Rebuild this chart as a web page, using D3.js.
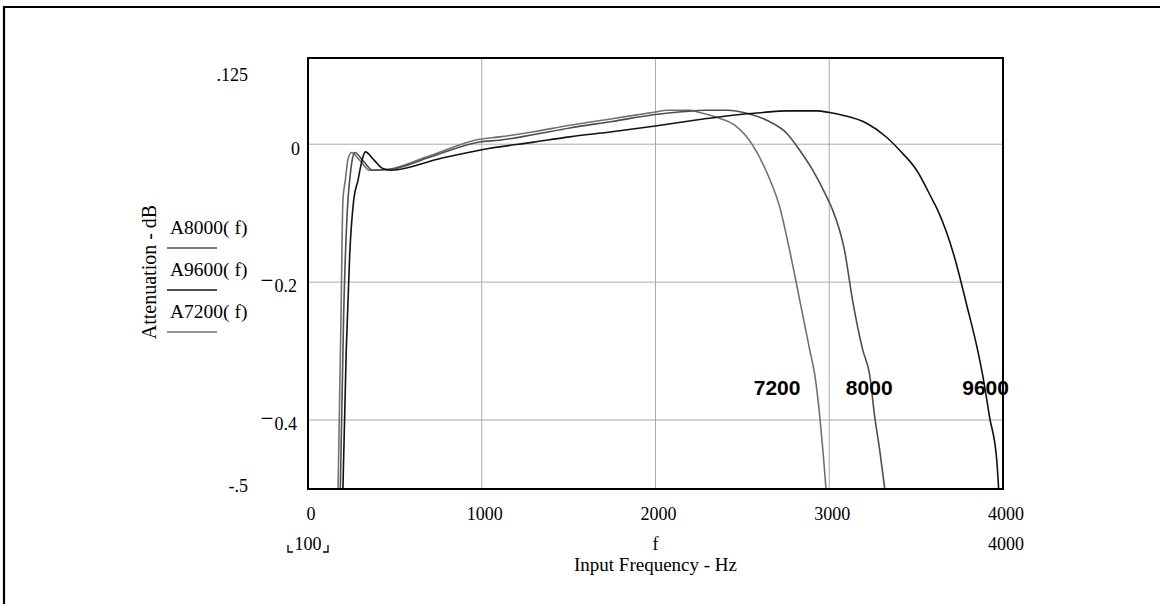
<!DOCTYPE html>
<html><head><meta charset="utf-8">
<script src="https://cdn.jsdelivr.net/npm/d3@7"></script>
<style>body{margin:0;background:#fff}</style>
</head><body>
<svg id="c" width="1160" height="604"></svg>
<script>
// ---- data (frequency in Hz, attenuation in dB) ----
const freq7200 = [173,190,201,215,230,250,300,355,451,700,988,1103,1300,1506,1750,1999,2065,2197,2254,2352,2456,2559,2640,2715,2772,2830,2888,2917,2946,2963,2981];
const att7200  = [-0.5,-0.25,-0.081,-0.052,-0.022,-0.012,-0.024,-0.0377,-0.0367,-0.0167,0.0072,0.0106,0.018,0.0275,0.037,0.0468,0.0493,0.0493,0.046,0.039,0.0275,-0.0014,-0.0406,-0.0913,-0.154,-0.226,-0.2986,-0.335,-0.396,-0.443,-0.4986];
const freq8000 = [186,205,230,240,255,269,320,372,470,700,988,1103,1300,1506,1750,1999,2150,2294,2415,2525,2640,2755,2830,2905,2986,3020,3088,3134,3193,3233,3262,3290,3319];
const att8000  = [-0.5,-0.25,-0.081,-0.052,-0.022,-0.012,-0.025,-0.0377,-0.0367,-0.019,0.0033,0.0058,0.014,0.0236,0.033,0.043,0.047,0.0493,0.0493,0.045,0.0348,0.0159,-0.0087,-0.0377,-0.0768,-0.0957,-0.154,-0.226,-0.2986,-0.335,-0.396,-0.443,-0.4986];
const freq9600 = [201,220,240,263,288,305,318,330,380,430,480,757,1000,1300,1506,1750,1999,2254,2410,2502,2620,2755,2928,3002,3077,3215,3330,3405,3503,3595,3624,3722,3790,3854,3883,3923,3964,3975];
const att9600  = [-0.5,-0.3,-0.16,-0.081,-0.052,-0.03,-0.017,-0.0112,-0.023,-0.0352,-0.0377,-0.021,-0.008,0.003,0.0106,0.018,0.0265,0.0358,0.041,0.0435,0.046,0.0483,0.0483,0.0459,0.042,0.0304,0.0101,-0.0087,-0.0377,-0.0812,-0.0957,-0.165,-0.232,-0.2986,-0.335,-0.396,-0.458,-0.5];

const seriesNames  = ["A8000( f)","A9600( f)","A7200( f)"];
const curveLabels  = ["7200","8000","9600"];
const curveLabelAt = [2700,3230,3900];      // frequency where each label is centred
const curveLabelDb = [-0.364,-0.364,-0.364];
const xTicks = [0,1000,2000,3000,4000];
const xTickText = ["0","1000","2000","3000","4000"];
const yGrid = [0,-0.2,-0.4];
const yTickValues = [0.125,0,-0.2,-0.4,-0.5];
const yTickText = [".125","0","−0.2","−0.4","-.5"];
const xLimitText = ["100","f","4000"];
const xTitle = "Input Frequency - Hz";
const yTitle = "Attenuation - dB";

const colors = {"7200":"#717171","8000":"#4e4e4e","9600":"#111111"};

const svg = d3.select("#c");
const serif = "'Liberation Serif','Times New Roman',serif";

// outer frame (top and left edges)
svg.append("path").attr("d","M4,604 V7 H1160").attr("fill","none").attr("stroke","#000").attr("stroke-width",2.2);

const x = d3.scaleLinear().domain([0,4000]).range([308,1003]);
const y = d3.scaleLinear().domain([-0.5,0.125]).range([489,58]);

// grid
const g = svg.append("g");
g.selectAll(".vg").data(xTicks.slice(1,-1)).join("line")
  .attr("x1",d=>x(d)).attr("x2",d=>x(d)).attr("y1",y.range()[1]).attr("y2",y.range()[0])
  .attr("stroke","#aaaaaa").attr("stroke-width",1);
g.selectAll(".hg").data(yGrid).join("line")
  .attr("x1",x.range()[0]).attr("x2",x.range()[1]).attr("y1",d=>y(d)).attr("y2",d=>y(d))
  .attr("stroke","#aaaaaa").attr("stroke-width",1);

// curves
svg.append("clipPath").attr("id","clip").append("rect")
  .attr("x",x.range()[0]).attr("y",y.range()[1])
  .attr("width",x.range()[1]-x.range()[0]).attr("height",y.range()[0]-y.range()[1]);
const line = d3.line().x(d=>x(d[0])).y(d=>y(d[1])).curve(d3.curveMonotoneX);
const curves = [
  {k:"7200", f:freq7200, a:att7200},
  {k:"8000", f:freq8000, a:att8000},
  {k:"9600", f:freq9600, a:att9600}
];
const cg = svg.append("g").attr("clip-path","url(#clip)");
curves.forEach(c=>{
  cg.append("path").datum(c.f.map((f,i)=>[f,c.a[i]]))
    .attr("d",line).attr("fill","none").attr("stroke",colors[c.k]).attr("stroke-width",1.6);
});

// plot border
svg.append("rect").attr("x",x.range()[0]).attr("y",y.range()[1])
  .attr("width",x.range()[1]-x.range()[0]).attr("height",y.range()[0]-y.range()[1])
  .attr("fill","none").attr("stroke","#000").attr("stroke-width",2);

// y tick labels
yTickValues.forEach((v,i)=>{
  const isLimit = (i===0 || i===yTickValues.length-1);
  const t = svg.append("text").attr("font-family",serif).attr("font-size",18)
    .attr("text-anchor","end").attr("fill","#000");
  if (isLimit) {
    t.attr("x",x.range()[0]-60).attr("y", i===0 ? y(v)+23 : y(v)+3).text(yTickText[i]);
  } else if (yTickText[i].startsWith("−")) {
    t.attr("x",x.range()[0]-11).attr("y",y(v)+10);
    t.append("tspan").attr("dy",-4).attr("font-size",23).text("−");
    t.append("tspan").attr("dy",4).attr("dx",1).text(yTickText[i].slice(1));
  } else {
    t.attr("x",x.range()[0]-8).attr("y",y(v)+11).text(yTickText[i]);
  }
});

// x tick labels
svg.selectAll(".xt").data(xTicks).join("text")
  .attr("x",d=>x(d)+3).attr("y",y.range()[0]+31)
  .attr("text-anchor","middle").attr("font-family",serif).attr("font-size",18)
  .text((d,i)=>xTickText[i]);

// x limit row
const row2 = y.range()[0]+61;
svg.append("text").attr("x",x(0)).attr("y",row2).attr("text-anchor","middle")
  .attr("font-family",serif).attr("font-size",18).text(xLimitText[0]);
svg.append("path").attr("d",`M${x(0)-20},${row2-5} V${row2+2} H${x(0)-15} M${x(0)+20},${row2-5} V${row2+2} H${x(0)+15}`)
  .attr("fill","none").attr("stroke","#000").attr("stroke-width",1.3);
svg.append("text").attr("x",x(2000)).attr("y",row2).attr("text-anchor","middle")
  .attr("font-family",serif).attr("font-size",18).text(xLimitText[1]);
svg.append("text").attr("x",x(4000)+3).attr("y",row2).attr("text-anchor","middle")
  .attr("font-family",serif).attr("font-size",18).text(xLimitText[2]);
svg.append("text").attr("x",x(2000)).attr("y",row2+21).attr("text-anchor","middle")
  .attr("font-family",serif).attr("font-size",19).text(xTitle);

// y title
svg.append("text").attr("transform","translate(156,272) rotate(-90)").attr("text-anchor","middle")
  .attr("font-family",serif).attr("font-size",20).text(yTitle);

// legend (name above a line sample)
const legendKeys = ["8000","9600","7200"];
seriesNames.forEach((n,i)=>{
  const by = 234 + i*42;
  svg.append("text").attr("x",170).attr("y",by).attr("font-family",serif).attr("font-size",19.5).text(n);
  svg.append("line").attr("x1",167).attr("x2",217).attr("y1",by+14).attr("y2",by+14)
    .attr("stroke",colors[legendKeys[i]]).attr("stroke-width",1.6);
});

// curve labels
curveLabels.forEach((l,i)=>{
  svg.append("text").attr("x",x(curveLabelAt[i])).attr("y",y(curveLabelDb[i]))
    .attr("text-anchor","middle").attr("font-family","'Liberation Sans',Arial,sans-serif")
    .attr("font-weight","bold").attr("font-size",21).text(l);
});
</script>
</body></html>
